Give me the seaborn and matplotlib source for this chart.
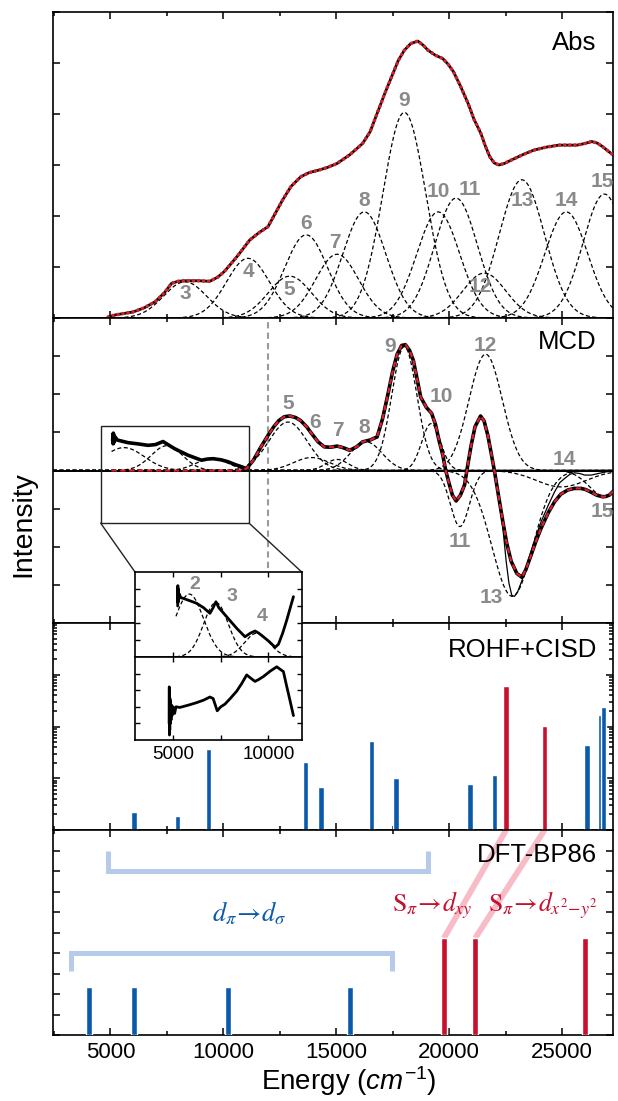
import numpy as np
import matplotlib
matplotlib.use("Agg")
import matplotlib.pyplot as plt
import seaborn as sns
from matplotlib.patches import Rectangle, ConnectionPatch
from matplotlib.ticker import MultipleLocator, LogLocator, NullFormatter, FixedLocator

# ------------------------------------------------------------------ data
abs_E = [4900, 5213, 6015, 6500, 6985, 7400, 7708, 8000, 8270, 8900, 9400, 9750, 10042, 10600,
         11172, 11600, 11978, 12300, 12621, 13000, 13432, 13800, 14229, 14600, 15040, 15600,
         16165, 16500, 16812, 17150, 17455, 17750, 18018, 18300, 18615, 18850, 19067, 19400,
         19710, 19950, 20193, 20500, 20840, 21100, 21407, 21600, 21805, 22000, 22204, 22450,
         22771, 23250, 23737, 24300, 24863, 25674, 26000, 26316, 26560, 26800, 27050, 27260]
abs_I = [0.02, 0.06, 0.12, 0.20, 0.32, 0.50, 0.68, 0.72, 0.73, 0.73, 0.72, 0.80, 0.91, 1.20,
         1.53, 1.68, 1.79, 2.05, 2.31, 2.58, 2.77, 2.85, 2.90, 2.95, 3.03, 3.20,
         3.42, 3.65, 4.01, 4.40, 4.73, 5.05, 5.25, 5.38, 5.43, 5.35, 5.25, 5.15,
         5.09, 4.98, 4.83, 4.55, 4.21, 3.90, 3.62, 3.38, 3.16, 3.04, 3.00, 3.03,
         3.10, 3.20, 3.29, 3.35, 3.39, 3.39, 3.42, 3.46, 3.43, 3.36, 3.27, 3.20]

# Gaussian bands of the Abs deconvolution (centre, height, width)
abs_band_id = ["3", "4", "5", "6", "7", "8", "9", "10", "11", "12", "13", "14", "15"]
abs_band_c = [8305, 11092, 12945, 13670, 15040, 16245, 18018, 19520, 20308, 21560, 23224, 25190, 26880]
abs_band_h = [0.71, 1.17, 0.82, 1.63, 1.25, 2.08, 4.03, 2.08, 2.35, 0.88, 2.71, 2.08, 2.43]
abs_band_w = [950, 950, 950, 950, 950, 950, 950, 950, 950, 950, 1000, 950, 950]
abs_lab_E = [8305, 11092, 12913, 13670, 14960, 16245, 18018, 19520, 20920, 21370, 23255, 25190, 26800]
abs_lab_y = [0.48, 0.91, 0.56, 1.86, 1.48, 2.31, 4.27, 2.48, 2.52, 0.61, 2.31, 2.31, 2.67]

# MCD spectrum (experimental)
mcd_E = [5100, 5110, 5120, 5130, 5145, 5160, 5180, 5210, 5300, 5780, 6200, 6666, 7000, 7330,
         7600, 7850, 8440, 9030, 9300, 9546, 9900, 10210, 10500, 10800, 11025,
         11332, 11650, 11978, 12250, 12461, 12700, 12944, 13200, 13427, 13700, 13910, 14200,
         14473, 14750, 15040, 15300, 15603, 15900, 16165, 16500, 16812, 17050, 17295, 17500,
         17700, 17900, 18066, 18250, 18420, 18600, 18745, 19000, 19227, 19400, 19550, 19723,
         19850, 20019, 20150, 20312, 20500, 20684, 20830, 20977, 21150, 21394, 21550, 21717,
         21850, 22014, 22200, 22381, 22550, 22749, 23000, 23224, 23400, 23636, 23850, 24079,
         24400, 24673, 24950, 25262, 25550, 25851, 26050, 26294, 26550, 26812, 26950, 27110, 27260]
mcd_I = [0.78, 0.95, 0.70, 0.98, 0.72, 0.92, 0.78, 0.88, 0.80, 0.73, 0.70, 0.66, 0.68, 0.76,
         0.66, 0.57, 0.40, 0.27, 0.30, 0.31, 0.28, 0.23, 0.16, 0.10, 0.05,
         0.27, 0.60, 0.92, 1.16, 1.31, 1.41, 1.43, 1.39, 1.31, 1.14, 0.97, 0.75,
         0.62, 0.61, 0.64, 0.60, 0.53, 0.62, 0.75, 0.80, 0.88, 1.35, 2.01, 2.60,
         3.05, 3.28, 3.30, 3.15, 2.88, 2.35, 1.92, 1.65, 1.50, 1.20, 0.80, 0.40,
         0.00, -0.38, -0.65, -0.80, -0.65, -0.38, 0.15, 0.66, 1.15, 1.43, 1.30, 0.92,
         0.50, -0.03, -0.70, -1.34, -1.90, -2.38, -2.70, -2.80, -2.60, -2.21, -1.85, -1.51,
         -1.10, -0.82, -0.62, -0.51, -0.47, -0.47, -0.50, -0.57, -0.65, -0.69, -0.68, -0.64, -0.55]
# MCD fit (red) : zero below the fitted region, then follows the data
mcd_fit_E = [5044, 10800] + mcd_E[mcd_E.index(11025):]
mcd_fit_I = [0.0, 0.0] + mcd_I[mcd_E.index(11025):]
# thin solid MCD trace
mcd_thin_E = [21850, 22014, 22200, 22381, 22528, 22650, 22780, 22900, 23046, 23250, 23489, 23800,
              24079, 24400, 24673, 24900, 25115, 25350, 25558, 25800, 26001, 26300, 26600, 27000, 27260]
mcd_thin_I = [0.50, -0.03, -0.75, -1.50, -2.38, -2.95, -3.28, -3.30, -3.17, -2.85, -2.38, -1.80,
              -1.34, -0.90, -0.56, -0.32, -0.21, -0.10, -0.06, -0.08, -0.12, -0.12, -0.08, -0.03, -0.01]

# MCD Gaussian bands
mcd_low_c = [5600, 7500, 9500]
mcd_low_h = [0.60, 0.65, 0.32]
mcd_low_w = [900, 700, 700]
mcd_band_c = [12864, 13910, 15040, 16330, 18018, 19206, 20480, 21620, 22800, 24966, 26900]
mcd_band_h = [1.27, 0.34, 0.29, 0.75, 3.25, 1.23, -1.47, 3.05, -3.30, -0.43, -0.68]
mcd_band_w = [850, 800, 500, 700, 560, 420, 420, 740, 900, 1100, 700]
mcd_lab_id = ["5", "6", "7", "8", "9", "10", "11", "12", "13", "14", "15"]
mcd_lab_E = [12864, 14075, 15090, 16245, 17375, 19660, 20470, 21600, 21855, 25105, 26800]
mcd_lab_y = [1.75, 1.27, 1.04, 1.14, 3.26, 1.94, -1.86, 3.29, -3.32, 0.29, -1.08]
mcd_marker_E = 11978

# Inset (low energy region)
ins_top_E = [5240, 5250, 5258, 5265, 5275, 5285, 5300, 5330, 5400, 5526, 5900, 6232, 6600, 6932,
             7100, 7247, 7400, 7810, 8337, 8774, 9050, 9300, 9500, 9737, 10050, 10353, 10530,
             10750, 10968, 11150, 11316]
ins_top_I = [3.0, 4.2, 3.2, 4.0, 3.3, 3.8, 3.4, 3.7, 3.5, 3.45, 3.3, 3.16, 2.9, 2.57,
             2.9, 3.25, 2.9, 2.37, 1.69, 1.19, 1.4, 1.53, 1.4, 1.19, 0.9, 0.57, 0.75,
             1.4, 2.18, 2.9, 3.55]
ins_bot_E = [4790, 4800, 4808, 4815, 4825, 4835, 4850, 4870, 4890, 4920, 4960, 5000, 5080, 5150,
             5350, 5800, 6232, 6600, 6932, 7100, 7316, 7500, 7721, 8000, 8337, 8600, 8863, 9100,
             9300, 9500, 9737, 10100, 10440, 10790, 10950, 11142, 11316]
ins_bot_I = [1.0, 3.2, 0.3, 2.8, 0.6, 2.5, 1.0, 2.3, 1.2, 2.1, 1.5, 2.0, 1.6, 2.0,
             1.96, 2.1, 2.25, 2.4, 2.59, 2.5, 1.76, 2.0, 2.16, 2.5, 2.94, 3.4, 3.92, 3.7,
             3.53, 3.65, 3.82, 4.15, 4.41, 4.12, 3.3, 2.35, 1.47]
ins_band_id = ["2", "3", "4"]
ins_band_c = [5850, 7250, 9400]
ins_band_h = [3.7, 3.2, 1.4]
ins_band_w = [750, 650, 650]
ins_lab_E = [6142, 8074, 9653]
ins_lab_y = [4.24, 3.55, 2.37]

# ROHF+CISD transitions
rohf_blue_E = [6050, 7980, 9333, 13650, 14330, 16555, 17650, 20932, 22013, 26102, 26709, 26842]
rohf_blue_I = [2.2, 1.9, 37, 20.6, 6.9, 53, 10, 7.6, 11.4, 43, 166, 233]
rohf_red_E = [22527, 24228]
rohf_red_I = [600, 103]

# DFT-BP86 transitions
dft_blue_E = [4050, 6050, 10206, 15603]
dft_blue_I = [2.35, 2.35, 2.35, 2.35]
dft_red_E = [19767, 21154, 26000]
dft_red_I = [4.72, 4.72, 4.72]
# brackets: (x0, x1, y of bar, y of ends)
dft_brackets = [(4900, 19050, 8.0, 9.0), (3250, 17450, 4.0, 3.1)]

# ------------------------------------------------------------------ style
sns.set_theme(style="ticks", rc={"axes.edgecolor": "black", "xtick.color": "black",
                                 "ytick.color": "black", "text.color": "black",
                                 "axes.labelcolor": "black"})
plt.rcParams["font.family"] = ["Liberation Sans", "DejaVu Sans"]
plt.rcParams["mathtext.fontset"] = "custom"
plt.rcParams["mathtext.rm"] = "Liberation Sans"
plt.rcParams["mathtext.it"] = "Liberation Sans:italic"
plt.rcParams["mathtext.bf"] = "Liberation Sans:bold"

BLUE = "#0a5aab"
RED = "#c5112e"
FITRED = "#d9202a"
LBLUE = "#b5cbe9"
PINK = "#f7bcc7"
GTXT = "#8a8a8a"

XMIN, XMAX = 2457, 27260
FW, FH = 618, 1101


def rect(x0, x1, top, bot):
    return [x0 / FW, 1 - bot / FH, (x1 - x0) / FW, (bot - top) / FH]


def gauss(x, c, h, w):
    return h * np.exp(-0.5 * ((x - c) / w) ** 2)


def line(ax, x, y, **kw):
    sns.lineplot(x=np.asarray(x, float), y=np.asarray(y, float), ax=ax, estimator=None,
                 sort=False, errorbar=None, legend=False, **kw)


fig = plt.figure(figsize=(FW / 100, FH / 100), dpi=100)
ax_abs = fig.add_axes(rect(53, 613, 12, 318))
ax_mcd = fig.add_axes(rect(53, 613, 318, 623))
ax_roh = fig.add_axes(rect(53, 613, 623, 830))
ax_dft = fig.add_axes(rect(53, 613, 830, 1035))
ax_i1 = fig.add_axes(rect(135, 301.7, 572, 657), zorder=10)
ax_i2 = fig.add_axes(rect(135, 301.7, 657, 740), zorder=10)

grid = np.linspace(XMIN, XMAX, 1500)
dash = (0, (3.2, 2.0))

# ----- Abs panel
for c, h, w in zip(abs_band_c, abs_band_h, abs_band_w):
    line(ax_abs, grid, gauss(grid, c, h, w), color="black", linewidth=0.9, linestyle=dash, zorder=2)
line(ax_abs, abs_E, abs_I, color="black", linewidth=2.0, zorder=3)
line(ax_abs, abs_E, abs_I, color=FITRED, linewidth=2.6, linestyle=(0, (0.01, 1.4)),
     dash_capstyle="round", zorder=4)
for t, x, y in zip(abs_band_id, abs_lab_E, abs_lab_y):
    ax_abs.text(x, y, t, color=GTXT, fontsize=15, fontweight="bold", ha="center", va="center", zorder=5)
ax_abs.set_ylim(0, 6)
ax_abs.yaxis.set_major_locator(MultipleLocator(1))
ax_abs.text(0.971, 1 - 31 / 306, "Abs", transform=ax_abs.transAxes, ha="right", va="center", fontsize=18.5)

# ----- MCD panel
low_grid = np.linspace(5050, 11100, 400)
for c, h, w in zip(mcd_low_c, mcd_low_h, mcd_low_w):
    line(ax_mcd, low_grid, gauss(low_grid, c, h, w), color="black", linewidth=0.9, linestyle=dash, zorder=2)
for c, h, w in zip(mcd_band_c, mcd_band_h, mcd_band_w):
    line(ax_mcd, grid, gauss(grid, c, h, w), color="black", linewidth=0.9, linestyle=dash, zorder=2)
ax_mcd.axhline(0, color="black", linewidth=1.4, zorder=2.5)
line(ax_mcd, mcd_thin_E, mcd_thin_I, color="black", linewidth=0.9, zorder=2.6)
line(ax_mcd, mcd_E, mcd_I, color="black", linewidth=2.6, zorder=3)
line(ax_mcd, mcd_fit_E, mcd_fit_I, color=FITRED, linewidth=1.6, linestyle=(0, (2.4, 1.6)), zorder=4)
for t, x, y in zip(mcd_lab_id, mcd_lab_E, mcd_lab_y):
    ax_mcd.text(x, y, t, color=GTXT, fontsize=15, fontweight="bold", ha="center", va="center", zorder=5)
ax_mcd.set_ylim(-4, 4)
ax_mcd.yaxis.set_major_locator(MultipleLocator(1))
ax_mcd.axvline(mcd_marker_E, ymin=0.18, ymax=1.0, color="#9a9a9a", linewidth=1.5,
               linestyle=(0, (3, 2)), zorder=1.5)
box_x0, box_x1, box_y0, box_y1 = 4566, 11141, -1.38, 1.16
ax_mcd.add_patch(Rectangle((box_x0, box_y0), box_x1 - box_x0, box_y1 - box_y0, fill=False,
                           edgecolor="#222222", linewidth=1.0, zorder=2.7))
ax_mcd.text(0.971, 1 - 24 / 305, "MCD", transform=ax_mcd.transAxes, ha="right", va="center", fontsize=18.5)

# ----- ROHF panel
ax_roh.set_yscale("log")
ax_roh.bar(rohf_blue_E, rohf_blue_I, width=240, color=BLUE, log=True, zorder=3)
ax_roh.bar(rohf_red_E, rohf_red_I, width=240, color=RED, log=True, zorder=3)
ax_roh.set_ylim(1, 1e4)
ax_roh.yaxis.set_major_locator(LogLocator(base=10, numticks=10))
ax_roh.yaxis.set_minor_locator(LogLocator(base=10, subs=np.arange(2, 10), numticks=20))
ax_roh.yaxis.set_minor_formatter(NullFormatter())
ax_roh.text(0.971, 1 - 27 / 207, "ROHF+CISD", transform=ax_roh.transAxes, ha="right", va="center", fontsize=18.5)

# ----- DFT panel
ax_dft.set_ylim(0, 10)
for (xr, yr), (xe, ye) in zip(zip(dft_red_E[:2], dft_red_I[:2]), zip(rohf_red_E, [10, 10])):
    ax_dft.plot([xr, xe], [yr, ye], color=PINK, linewidth=4.2, solid_capstyle="butt", zorder=1.5)
for x0, x1, yb, ye in dft_brackets:
    ax_dft.plot([x0, x0, x1, x1], [ye, yb, yb, ye], color=LBLUE, linewidth=3.6,
                solid_joinstyle="miter", solid_capstyle="butt", zorder=1.5)
ax_dft.bar(dft_blue_E, dft_blue_I, width=270, color=BLUE, zorder=3)
ax_dft.bar(dft_red_E, dft_red_I, width=270, color=RED, zorder=3)
ax_dft.text(11130, 5.53, r"$d_{\pi}\!\rightarrow\! d_{\sigma}$", color=BLUE, fontsize=19,
            ha="center", va="baseline", math_fontfamily="stix", zorder=5)
ax_dft.text(19250, 6.01, r"$\mathrm{S}_{\pi}\!\rightarrow\! d_{xy}$", color=RED, fontsize=18.5,
            ha="center", va="baseline", math_fontfamily="stix", zorder=5)
ax_dft.text(24150, 6.01, r"$\mathrm{S}_{\pi}\!\rightarrow\! d_{x^2\!-\!y^2}$", color=RED, fontsize=18.5,
            ha="center", va="baseline", math_fontfamily="stix", zorder=5)
ax_dft.yaxis.set_major_locator(MultipleLocator(1))
ax_dft.text(0.971, 1 - 25 / 205, "DFT-BP86", transform=ax_dft.transAxes, ha="right", va="center", fontsize=18.5)

# common axis formatting for main panels
for ax in (ax_abs, ax_mcd, ax_roh, ax_dft):
    ax.set_xlim(XMIN, XMAX)
    ax.xaxis.set_major_locator(MultipleLocator(5000))
    ax.xaxis.set_minor_locator(MultipleLocator(2500))
    ax.tick_params(which="both", direction="in", top=True, right=True, width=1.1,
                   labelleft=False, labelbottom=False)
    ax.tick_params(which="major", length=5)
    ax.tick_params(which="minor", length=2.6)
    for s in ax.spines.values():
        s.set_linewidth(1.2)
    ax.set_xlabel("")
    ax.set_ylabel("")
ax_dft.tick_params(labelbottom=True, labelsize=16, pad=5)
ax_dft.set_xticks([5000, 10000, 15000, 20000, 25000])

# ----- inset
ins_grid = np.linspace(5150, 11300, 400)
for c, h, w in zip(ins_band_c, ins_band_h, ins_band_w):
    line(ax_i1, ins_grid, gauss(ins_grid, c, h, w), color="black", linewidth=0.9, linestyle=dash, zorder=2)
line(ax_i1, ins_top_E, ins_top_I, color="black", linewidth=2.0, zorder=3)
for t, x, y in zip(ins_band_id, ins_lab_E, ins_lab_y):
    ax_i1.text(x, y, t, color=GTXT, fontsize=14, fontweight="bold", ha="center", va="center", zorder=5)
line(ax_i2, ins_bot_E, ins_bot_I, color="black", linewidth=2.0, zorder=3)
for ax in (ax_i1, ax_i2):
    ax.set_facecolor("white")
    ax.set_xlim(3000, 11750)
    ax.set_ylim(0, 5)
    ax.xaxis.set_major_locator(FixedLocator([5000, 7500, 10000]))
    ax.yaxis.set_major_locator(FixedLocator([1, 2, 3, 4]))
    ax.tick_params(which="both", direction="in", top=True, right=True, length=3.5, width=1.0,
                   labelleft=False, labelbottom=False)
    for s in ax.spines.values():
        s.set_linewidth(1.2)
    ax.set_xlabel("")
    ax.set_ylabel("")
ax_i2.set_xticks([5000, 7500, 10000])
ax_i2.set_xticklabels(["5000", "", "10000"])
ax_i2.tick_params(labelbottom=True, labelsize=13.5, pad=4)

# connectors from the MCD box to the inset
for xa, xb in ((box_x0, 0.0), (box_x1, 1.0)):
    cp = ConnectionPatch(xyA=(xa, box_y0), coordsA=ax_mcd.transData,
                         xyB=(xb, 1.0), coordsB=ax_i1.transAxes,
                         color="#222222", linewidth=1.0, zorder=9)
    fig.add_artist(cp)

# ----- axis titles
fig.text(23 / FW, 1 - 524 / FH, "Intensity", rotation=90, ha="center", va="center", fontsize=20.5)
fig.text(349 / FW, 1 - 1081 / FH, r"Energy ($cm^{-1}$)", ha="center", va="center", fontsize=20)

fig.savefig("out.png", dpi=100)
